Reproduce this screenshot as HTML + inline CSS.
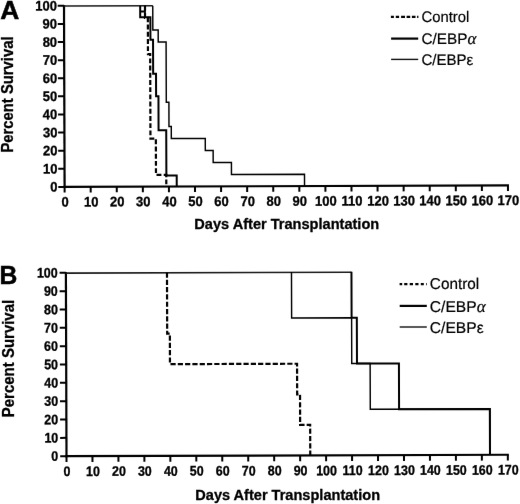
<!DOCTYPE html>
<html><head><meta charset="utf-8"><style>
html,body{margin:0;padding:0;background:#fff;width:520px;height:504px;overflow:hidden}
svg{display:block;font-family:"Liberation Sans", sans-serif;filter:grayscale(1)}
</style></head><body>
<svg width="520" height="504" viewBox="0 0 520 504" fill="#000">
<defs><filter id="bl" x="0" y="0" width="520" height="504" filterUnits="userSpaceOnUse" color-interpolation-filters="sRGB"><feConvolveMatrix order="3" kernelMatrix="0.00193 0.04394 0.00193 0.04394 1.00000 0.04394 0.00193 0.04394 0.00193" edgeMode="duplicate" preserveAlpha="true"/></filter></defs>
<g filter="url(#bl)">
<rect x="0" y="0" width="520" height="504" fill="#fff"/>
<g transform="rotate(-0.19 64.6 186.9)">
<path d="M64.60,5.00V188.00" stroke="#000" stroke-width="2.2" fill="none"/>
<path d="M63.50,186.90H508.96" stroke="#000" stroke-width="2.2" fill="none"/>
<path d="M58.30,186.90H64.60M58.30,168.79H64.60M58.30,150.68H64.60M58.30,132.57H64.60M58.30,114.46H64.60M58.30,96.35H64.60M58.30,78.24H64.60M58.30,60.13H64.60M58.30,42.02H64.60M58.30,23.91H64.60M58.30,5.80H64.60" stroke="#000" stroke-width="2.0" fill="none"/>
<path d="M64.60,186.90V192.50M90.68,186.90V192.50M116.76,186.90V192.50M142.84,186.90V192.50M168.92,186.90V192.50M195.00,186.90V192.50M221.08,186.90V192.50M247.16,186.90V192.50M273.24,186.90V192.50M299.32,186.90V192.50M325.40,186.90V192.50M351.48,186.90V192.50M377.56,186.90V192.50M403.64,186.90V192.50M429.72,186.90V192.50M455.80,186.90V192.50M481.88,186.90V192.50M507.96,186.90V192.50" stroke="#000" stroke-width="2.0" fill="none"/>
<text transform="translate(57.55,191.50) scale(1.0,1.06)" text-anchor="end" font-weight="bold" font-size="13" stroke="#000" stroke-width="0.3">0</text>
<text transform="translate(57.55,173.39) scale(1.0,1.06)" text-anchor="end" font-weight="bold" font-size="13" stroke="#000" stroke-width="0.3">10</text>
<text transform="translate(57.55,155.28) scale(1.0,1.06)" text-anchor="end" font-weight="bold" font-size="13" stroke="#000" stroke-width="0.3">20</text>
<text transform="translate(57.55,137.17) scale(1.0,1.06)" text-anchor="end" font-weight="bold" font-size="13" stroke="#000" stroke-width="0.3">30</text>
<text transform="translate(57.55,119.06) scale(1.0,1.06)" text-anchor="end" font-weight="bold" font-size="13" stroke="#000" stroke-width="0.3">40</text>
<text transform="translate(57.55,100.95) scale(1.0,1.06)" text-anchor="end" font-weight="bold" font-size="13" stroke="#000" stroke-width="0.3">50</text>
<text transform="translate(57.55,82.84) scale(1.0,1.06)" text-anchor="end" font-weight="bold" font-size="13" stroke="#000" stroke-width="0.3">60</text>
<text transform="translate(57.55,64.73) scale(1.0,1.06)" text-anchor="end" font-weight="bold" font-size="13" stroke="#000" stroke-width="0.3">70</text>
<text transform="translate(57.55,46.62) scale(1.0,1.06)" text-anchor="end" font-weight="bold" font-size="13" stroke="#000" stroke-width="0.3">80</text>
<text transform="translate(57.55,28.51) scale(1.0,1.06)" text-anchor="end" font-weight="bold" font-size="13" stroke="#000" stroke-width="0.3">90</text>
<text transform="translate(57.55,10.40) scale(1.0,1.06)" text-anchor="end" font-weight="bold" font-size="13" stroke="#000" stroke-width="0.3">100</text>
<text transform="translate(65.00,206.5) scale(1.0,1.06)" text-anchor="middle" font-weight="bold" font-size="13" stroke="#000" stroke-width="0.3">0</text>
<text transform="translate(91.08,206.5) scale(1.0,1.06)" text-anchor="middle" font-weight="bold" font-size="13" stroke="#000" stroke-width="0.3">10</text>
<text transform="translate(117.16,206.5) scale(1.0,1.06)" text-anchor="middle" font-weight="bold" font-size="13" stroke="#000" stroke-width="0.3">20</text>
<text transform="translate(143.24,206.5) scale(1.0,1.06)" text-anchor="middle" font-weight="bold" font-size="13" stroke="#000" stroke-width="0.3">30</text>
<text transform="translate(169.32,206.5) scale(1.0,1.06)" text-anchor="middle" font-weight="bold" font-size="13" stroke="#000" stroke-width="0.3">40</text>
<text transform="translate(195.40,206.5) scale(1.0,1.06)" text-anchor="middle" font-weight="bold" font-size="13" stroke="#000" stroke-width="0.3">50</text>
<text transform="translate(221.48,206.5) scale(1.0,1.06)" text-anchor="middle" font-weight="bold" font-size="13" stroke="#000" stroke-width="0.3">60</text>
<text transform="translate(247.56,206.5) scale(1.0,1.06)" text-anchor="middle" font-weight="bold" font-size="13" stroke="#000" stroke-width="0.3">70</text>
<text transform="translate(273.64,206.5) scale(1.0,1.06)" text-anchor="middle" font-weight="bold" font-size="13" stroke="#000" stroke-width="0.3">80</text>
<text transform="translate(299.72,206.5) scale(1.0,1.06)" text-anchor="middle" font-weight="bold" font-size="13" stroke="#000" stroke-width="0.3">90</text>
<text transform="translate(325.80,206.5) scale(1.0,1.06)" text-anchor="middle" font-weight="bold" font-size="13" stroke="#000" stroke-width="0.3">100</text>
<text transform="translate(351.88,206.5) scale(1.0,1.06)" text-anchor="middle" font-weight="bold" font-size="13" stroke="#000" stroke-width="0.3">110</text>
<text transform="translate(377.96,206.5) scale(1.0,1.06)" text-anchor="middle" font-weight="bold" font-size="13" stroke="#000" stroke-width="0.3">120</text>
<text transform="translate(404.04,206.5) scale(1.0,1.06)" text-anchor="middle" font-weight="bold" font-size="13" stroke="#000" stroke-width="0.3">130</text>
<text transform="translate(430.12,206.5) scale(1.0,1.06)" text-anchor="middle" font-weight="bold" font-size="13" stroke="#000" stroke-width="0.3">140</text>
<text transform="translate(456.20,206.5) scale(1.0,1.06)" text-anchor="middle" font-weight="bold" font-size="13" stroke="#000" stroke-width="0.3">150</text>
<text transform="translate(482.28,206.5) scale(1.0,1.06)" text-anchor="middle" font-weight="bold" font-size="13" stroke="#000" stroke-width="0.3">160</text>
<text transform="translate(508.36,206.5) scale(1.0,1.06)" text-anchor="middle" font-weight="bold" font-size="13" stroke="#000" stroke-width="0.3">170</text>
<g transform="translate(0,0.3)">
<path d="M64.60,5.80H153.35" stroke="#1a1a1a" stroke-width="1.5" fill="none"/>
<path d="M145.58,5.80V17.88H148.40V54.10H150.61V138.60H156.01V174.82H166.31V186.90" stroke="#000" stroke-width="2.2" stroke-dasharray="4.9,2.3" fill="none"/>
<path d="M153.35,5.80V29.94H158.70V42.02H166.57V102.38H169.18V126.54H171.48V138.60H205.43V150.68H213.26V162.76H231.51V174.82H304.54V186.90" stroke="#000" stroke-width="1.45" fill="none"/>
<path d="M140.78,5.80V17.12H150.92V39.76H153.53V73.71H156.40V96.35H158.75V130.31H166.42V175.58H176.74V186.90" stroke="#000" stroke-width="2.0" fill="none"/>
<path d="M140.78,11.47H146.48M145.58,5.80V15.3" stroke="#000" stroke-width="1.8" fill="none"/>
</g>
</g>
<text transform="translate(0.3,18.6) scale(1.035,1)" font-weight="bold" font-size="25.5" stroke="#000" stroke-width="0.5">A</text>
<text transform="translate(12.8,152.5) rotate(-90)" font-weight="bold" font-size="16" stroke="#000" stroke-width="0.3" textLength="116" lengthAdjust="spacingAndGlyphs">Percent Survival</text>
<text x="194.33" y="229.2" font-weight="bold" font-size="14.5" stroke="#000" stroke-width="0.3" textLength="184.86" lengthAdjust="spacingAndGlyphs">Days After Transplantation</text>
<path d="M390.9,16.9H393.9M395.8,16.9H399.1M401.1,16.9H405M406.6,16.9H410.2M411.9,16.9H415.5M417.1,16.9H418.4" stroke="#000" stroke-width="2.2" fill="none"/>
<path d="M391.1,38.6H418.2" stroke="#000" stroke-width="2.2" fill="none"/>
<path d="M391.1,59.4H418.2" stroke="#111" stroke-width="1.4" fill="none"/>
<text transform="translate(421.5,21.8) scale(1,1.0)" font-size="15.3" text-rendering="geometricPrecision" stroke="#000" stroke-width="0.2" textLength="47.76" lengthAdjust="spacingAndGlyphs">Control</text>
<text transform="translate(421.5,43.8) scale(1,1.0)" font-size="15.3" text-rendering="geometricPrecision" stroke="#000" stroke-width="0.2">C/EBP<tspan font-family="Liberation Serif" font-style="italic" font-size="16.830000000000002">&#945;</tspan></text>
<text transform="translate(421.5,64.8) scale(1,1.0)" font-size="15.3" text-rendering="geometricPrecision" stroke="#000" stroke-width="0.2" textLength="51.8" lengthAdjust="spacingAndGlyphs">C/EBP&#949;</text>
<g transform="rotate(-0.19 66.5 456.2)">
<path d="M66.50,272.00V457.30" stroke="#000" stroke-width="2.2" fill="none"/>
<path d="M65.40,456.20H508.82" stroke="#000" stroke-width="2.2" fill="none"/>
<path d="M60.20,456.20H66.50M60.20,437.86H66.50M60.20,419.52H66.50M60.20,401.18H66.50M60.20,382.84H66.50M60.20,364.50H66.50M60.20,346.16H66.50M60.20,327.82H66.50M60.20,309.48H66.50M60.20,291.14H66.50M60.20,272.80H66.50" stroke="#000" stroke-width="2.0" fill="none"/>
<path d="M66.50,456.20V462.00M92.46,456.20V462.00M118.42,456.20V462.00M144.38,456.20V462.00M170.34,456.20V462.00M196.30,456.20V462.00M222.26,456.20V462.00M248.22,456.20V462.00M274.18,456.20V462.00M300.14,456.20V462.00M326.10,456.20V462.00M352.06,456.20V462.00M378.02,456.20V462.00M403.98,456.20V462.00M429.94,456.20V462.00M455.90,456.20V462.00M481.86,456.20V462.00M507.82,456.20V462.00" stroke="#000" stroke-width="2.0" fill="none"/>
<text transform="translate(58.3,460.80) scale(0.96,1.06)" text-anchor="end" font-weight="bold" font-size="13" stroke="#000" stroke-width="0.3">0</text>
<text transform="translate(58.3,442.46) scale(0.96,1.06)" text-anchor="end" font-weight="bold" font-size="13" stroke="#000" stroke-width="0.3">10</text>
<text transform="translate(58.3,424.12) scale(0.96,1.06)" text-anchor="end" font-weight="bold" font-size="13" stroke="#000" stroke-width="0.3">20</text>
<text transform="translate(58.3,405.78) scale(0.96,1.06)" text-anchor="end" font-weight="bold" font-size="13" stroke="#000" stroke-width="0.3">30</text>
<text transform="translate(58.3,387.44) scale(0.96,1.06)" text-anchor="end" font-weight="bold" font-size="13" stroke="#000" stroke-width="0.3">40</text>
<text transform="translate(58.3,369.10) scale(0.96,1.06)" text-anchor="end" font-weight="bold" font-size="13" stroke="#000" stroke-width="0.3">50</text>
<text transform="translate(58.3,350.76) scale(0.96,1.06)" text-anchor="end" font-weight="bold" font-size="13" stroke="#000" stroke-width="0.3">60</text>
<text transform="translate(58.3,332.42) scale(0.96,1.06)" text-anchor="end" font-weight="bold" font-size="13" stroke="#000" stroke-width="0.3">70</text>
<text transform="translate(58.3,314.08) scale(0.96,1.06)" text-anchor="end" font-weight="bold" font-size="13" stroke="#000" stroke-width="0.3">80</text>
<text transform="translate(58.3,295.74) scale(0.96,1.06)" text-anchor="end" font-weight="bold" font-size="13" stroke="#000" stroke-width="0.3">90</text>
<text transform="translate(58.3,277.40) scale(0.96,1.06)" text-anchor="end" font-weight="bold" font-size="13" stroke="#000" stroke-width="0.3">100</text>
<text transform="translate(66.90,476.0) scale(0.96,1.06)" text-anchor="middle" font-weight="bold" font-size="13" stroke="#000" stroke-width="0.3">0</text>
<text transform="translate(92.86,476.0) scale(0.96,1.06)" text-anchor="middle" font-weight="bold" font-size="13" stroke="#000" stroke-width="0.3">10</text>
<text transform="translate(118.82,476.0) scale(0.96,1.06)" text-anchor="middle" font-weight="bold" font-size="13" stroke="#000" stroke-width="0.3">20</text>
<text transform="translate(144.78,476.0) scale(0.96,1.06)" text-anchor="middle" font-weight="bold" font-size="13" stroke="#000" stroke-width="0.3">30</text>
<text transform="translate(170.74,476.0) scale(0.96,1.06)" text-anchor="middle" font-weight="bold" font-size="13" stroke="#000" stroke-width="0.3">40</text>
<text transform="translate(196.70,476.0) scale(0.96,1.06)" text-anchor="middle" font-weight="bold" font-size="13" stroke="#000" stroke-width="0.3">50</text>
<text transform="translate(222.66,476.0) scale(0.96,1.06)" text-anchor="middle" font-weight="bold" font-size="13" stroke="#000" stroke-width="0.3">60</text>
<text transform="translate(248.62,476.0) scale(0.96,1.06)" text-anchor="middle" font-weight="bold" font-size="13" stroke="#000" stroke-width="0.3">70</text>
<text transform="translate(274.58,476.0) scale(0.96,1.06)" text-anchor="middle" font-weight="bold" font-size="13" stroke="#000" stroke-width="0.3">80</text>
<text transform="translate(300.54,476.0) scale(0.96,1.06)" text-anchor="middle" font-weight="bold" font-size="13" stroke="#000" stroke-width="0.3">90</text>
<text transform="translate(326.50,476.0) scale(0.96,1.06)" text-anchor="middle" font-weight="bold" font-size="13" stroke="#000" stroke-width="0.3">100</text>
<text transform="translate(352.46,476.0) scale(0.96,1.06)" text-anchor="middle" font-weight="bold" font-size="13" stroke="#000" stroke-width="0.3">110</text>
<text transform="translate(378.42,476.0) scale(0.96,1.06)" text-anchor="middle" font-weight="bold" font-size="13" stroke="#000" stroke-width="0.3">120</text>
<text transform="translate(404.38,476.0) scale(0.96,1.06)" text-anchor="middle" font-weight="bold" font-size="13" stroke="#000" stroke-width="0.3">130</text>
<text transform="translate(430.34,476.0) scale(0.96,1.06)" text-anchor="middle" font-weight="bold" font-size="13" stroke="#000" stroke-width="0.3">140</text>
<text transform="translate(456.30,476.0) scale(0.96,1.06)" text-anchor="middle" font-weight="bold" font-size="13" stroke="#000" stroke-width="0.3">150</text>
<text transform="translate(482.26,476.0) scale(0.96,1.06)" text-anchor="middle" font-weight="bold" font-size="13" stroke="#000" stroke-width="0.3">160</text>
<text transform="translate(508.22,476.0) scale(0.96,1.06)" text-anchor="middle" font-weight="bold" font-size="13" stroke="#000" stroke-width="0.3">170</text>
<g transform="translate(0,0)">
<path d="M66.50,272.80H352.06" stroke="#1a1a1a" stroke-width="1.6" fill="none" transform="translate(0,0.35)"/>
<path d="M167.59,272.80V333.93H170.26V364.50H297.36V395.07H300.24V425.63H310.26V456.20" stroke="#000" stroke-width="2.2" stroke-dasharray="5.2,2.1" fill="none"/>
<path d="M292.09,272.80V318.65H352.06V364.50H370.44V410.35H489.99V456.20" stroke="#000" stroke-width="1.45" fill="none"/>
<path d="M352.06,272.80V318.65H357.28V364.50H399.23V410.35H489.99V456.20" stroke="#000" stroke-width="2.0" fill="none"/>
</g>
</g>
<text transform="translate(-0.5,284.4) scale(0.95,1)" font-weight="bold" font-size="26" stroke="#000" stroke-width="0.5">B</text>
<text transform="translate(13.8,417.2) rotate(-90)" font-weight="bold" font-size="16" stroke="#000" stroke-width="0.3" textLength="117.4" lengthAdjust="spacingAndGlyphs">Percent Survival</text>
<text x="195.28" y="499.6" font-weight="bold" font-size="14.5" stroke="#000" stroke-width="0.3" textLength="184.78" lengthAdjust="spacingAndGlyphs">Days After Transplantation</text>
<path d="M399.6,284.1H402.2M404.2,284.1H407.4M409.7,284.1H413M415.3,284.1H418.5M420.8,284.1H423.8M426,284.1H426.7" stroke="#000" stroke-width="2.2" fill="none"/>
<path d="M399.7,305.9H426.8" stroke="#000" stroke-width="2.2" fill="none"/>
<path d="M399.7,327.0H426.8" stroke="#111" stroke-width="1.4" fill="none"/>
<text transform="translate(429.85,288.9) scale(1,1.0)" font-size="15.6" text-rendering="geometricPrecision" stroke="#000" stroke-width="0.2" textLength="49.3" lengthAdjust="spacingAndGlyphs">Control</text>
<text transform="translate(429.85,311.8) scale(1,1.0)" font-size="15.6" text-rendering="geometricPrecision" stroke="#000" stroke-width="0.2">C/EBP<tspan font-family="Liberation Serif" font-style="italic" font-size="17.16">&#945;</tspan></text>
<text transform="translate(429.85,332.8) scale(1,1.0)" font-size="15.6" text-rendering="geometricPrecision" stroke="#000" stroke-width="0.2">C/EBP&#949;</text>
</g>
</svg>
</body></html>
